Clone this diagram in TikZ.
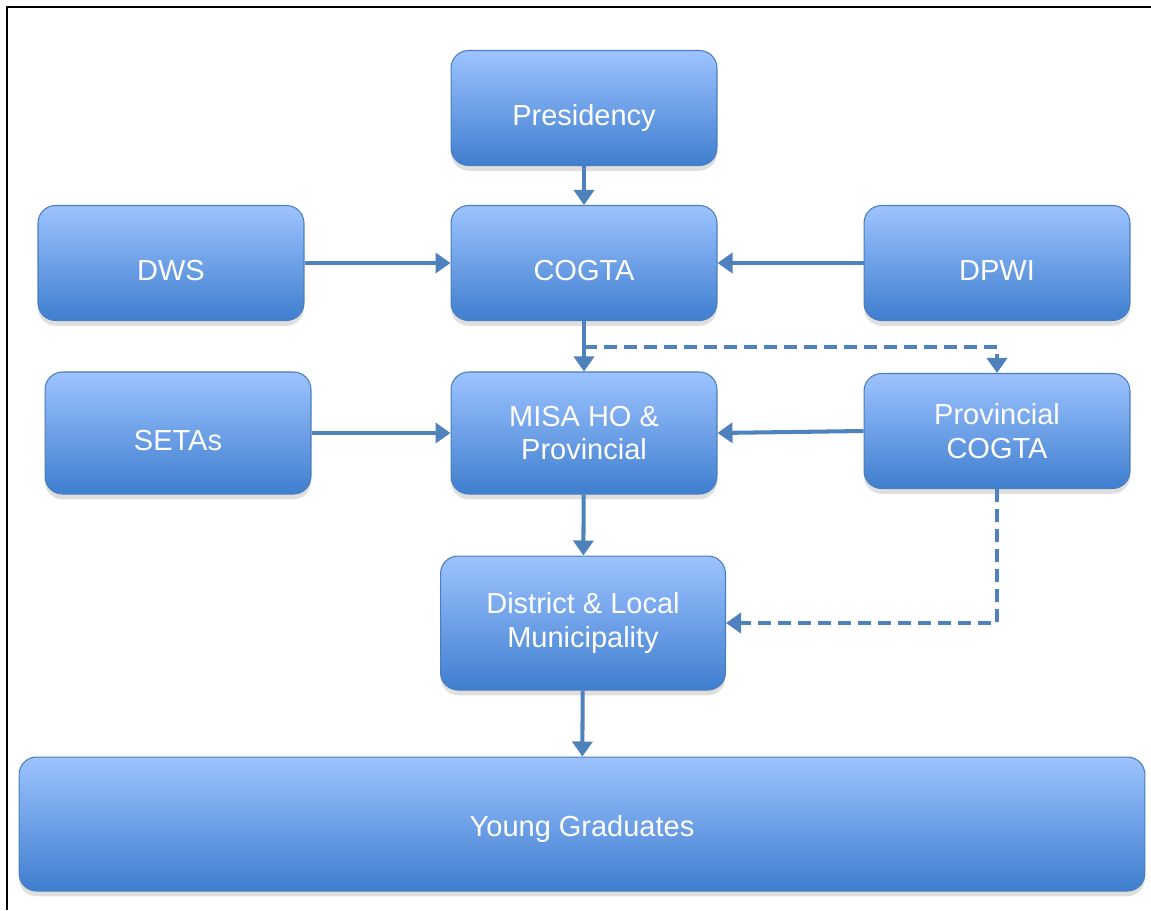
\documentclass[tikz,border=0pt]{standalone}
\usepackage{fontspec}
\setmainfont{Liberation Sans}
\usetikzlibrary{arrows.meta,shadows}
\definecolor{boxtop}{HTML}{9DC3FF}
\definecolor{boxbot}{HTML}{3F7ECF}
\definecolor{boxline}{HTML}{4A7EBB}
\definecolor{linkblue}{HTML}{4F81BD}
\begin{document}
\begin{tikzpicture}[x=0.02cm, y=-0.02cm, >={Triangle[width=0.4cm,length=0.3cm]},
    font=\fontsize{16.5}{19}\selectfont, line join=round,
    unit/.style={draw=boxline, line width=0.6pt, rounded corners=0.35cm,
      top color=boxtop, bottom color=boxbot, text=white, align=center,
      minimum width=5.32cm, minimum height=2.3cm,
      drop shadow={shadow xshift=0pt, shadow yshift=-3pt, opacity=0.25}},
    single/.style={text height=0.8cm, text depth=0.12cm},
    link/.style={->, draw=linkblue, line width=2.3pt},
    dlink/.style={link, dash pattern=on 0.26cm off 0.14cm}]
    \useasboundingbox (0,0) rectangle (1151,910);
    \draw[line width=1.5pt] (7,910) -- (7,7) -- (1151,7);
    % Boxes
    \node[unit, single] (pres) at (584,108) {Presidency};
    \node[unit, single] (cogta) at (584,263) {COGTA};
    \node[unit, single] (dws) at (171,263) {DWS};
    \node[unit, single] (dpwi) at (997,263) {DPWI};
    \node[unit, single, minimum height=2.44cm] (setas) at (178,433) {SETAs};
    \node[unit, minimum height=2.44cm] (misa) at (584,433) {MISA HO \&\\ Provincial};
    \node[unit] (pcogta) at (997,431) {Provincial\\ COGTA};
    \node[unit, minimum width=5.7cm, minimum height=2.68cm] (dist) at (583,623) {District \& Local\\ Municipality};
    \node[unit, single, text height=0.6cm, minimum width=22.52cm, minimum height=2.68cm] (young) at (582,824) {Young Graduates};
    % Links
    \draw[link] (pres) -- (cogta);
    \draw[link] (dws) -- (cogta);
    \draw[link] (dpwi) -- (cogta);
    \draw[link] (cogta) -- (misa);
    \draw[link] (setas) -- (misa);
    \draw[link] (pcogta.west) -- (misa.east);
    \draw[link] (misa) -- (dist);
    \draw[link] (dist) -- (young);
    \draw[dlink] (cogta.south) ++(0,26) -| (pcogta.north);
    \draw[dlink] (pcogta.south) |- (dist.east);
\end{tikzpicture}
\end{document}
